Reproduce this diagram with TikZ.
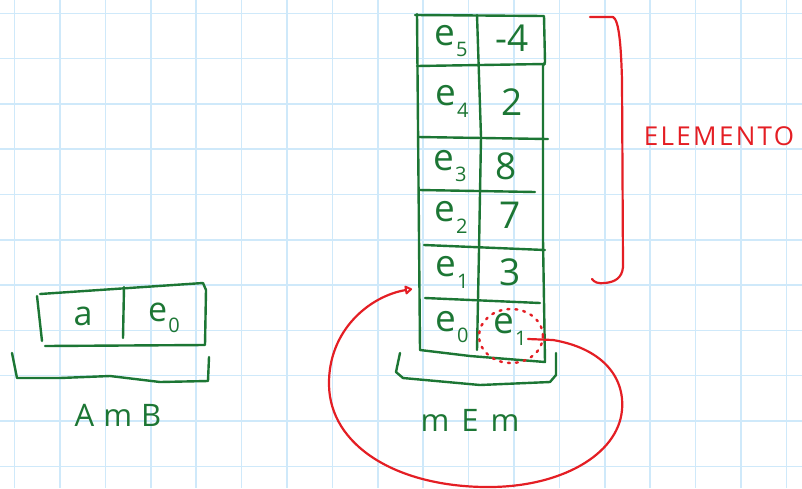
\documentclass[tikz,border=0pt]{standalone}
\usepackage{fontspec}
\setmainfont{Open Sans}
\usetikzlibrary{arrows.meta,shapes.geometric}
\definecolor{ink}{RGB}{28,118,52}
\definecolor{pen}{RGB}{228,30,36}
\definecolor{paper}{RGB}{207,233,250}
\tikzset{
  stroke/.style={draw=ink, line width=2.4pt, line cap=round, line join=round},
  redstroke/.style={draw=pen, line width=2.2pt, line cap=round, line join=round},
  cell/.style={text=ink, font=\fontsize{37}{37}\selectfont, inner sep=0pt},
  tag/.style={text=ink, inner sep=0pt},
}
% letter with a lowered index
\newcommand\idx[2]{#1\kern0.03em\raisebox{-0.32em}{\fontsize{20}{20}\selectfont #2}}
\begin{document}
\begin{tikzpicture}[x=1pt,y=-1pt]
  \useasboundingbox (0,0) rectangle (802,488);
  \fill[white] (0,0) rectangle (802,488);
  % squared paper
  \foreach \k in {0,...,17} \draw[paper, line width=1.5pt] ({14.6+45.4*\k},0) -- ({14.6+45.4*\k},488);
  \foreach \k in {0,...,10} \draw[paper, line width=1.5pt] (0,{13.3+45.3*\k}) -- (802,{13.3+45.3*\k});

  % ---------- memory table ----------
  \draw[stroke] (415,15) -- (544,16) -- (545,62) -- (543,66) -- (543,137) -- (543,240) -- (545,362)
                -- (470,356) -- (420,350) -- (417,14);
  \draw[stroke] (417,66) -- (545,64);
  \draw[stroke] (418,137) -- (548,139);
  \draw[stroke] (419,190) -- (535,192);
  \draw[stroke] (424,245) -- (545,250);
  \draw[stroke] (425,298) -- (540,303);
  \draw[stroke] (477,15) -- (481,137) -- (479,250) -- (477,350);
  % bracket under the table
  \draw[stroke] (400,353) -- (396,372) -- (403,378) -- (480,385) -- (550,382) -- (556,375) -- (556,353);

  \node[cell] (e5) at (451,41) {\idx{e}{5}};
  \node[cell] (v5) at (512,38) {-4};
  \node[cell] (e4) at (452,101) {\idx{e}{4}};
  \node[cell] (v4) at (512,102) {2};
  \node[cell] (e3) at (450,166) {\idx{e}{3}};
  \node[cell] (v3) at (506,166) {8};
  \node[cell] (e2) at (451,217) {\idx{e}{2}};
  \node[cell] (v2) at (510,215) {7};
  \node[cell] (e1) at (452,272) {\idx{e}{1}};
  \node[cell] (v1) at (510,272) {3};
  \node[cell] (e0) at (452,327) {\idx{e}{0}};
  \node[cell] (v0) at (510,329) {\idx{e}{1}};

  \node[tag, font=\fontsize{31}{31}\selectfont] (mem) at (470,420) {m\hspace{12pt}E\hspace{12pt}m};

  % ---------- pointer from e1 back to the e1 row ----------
  \node[draw=pen, line width=2.4pt, dash pattern=on 2pt off 6pt, line cap=round,
        ellipse, minimum width=64pt, minimum height=54pt, inner sep=0pt] (ptr) at (511,336) {};
  \coordinate (row1) at (412,289);
  \draw[redstroke, -{Triangle[open,round,length=8pt,width=10pt]}]
    (528,339) -- (553,340) .. controls (600,348) and (625,375) .. (622,410)
    .. controls (618,455) and (560,488) .. (485,487)
    .. controls (395,486) and (330,445) .. (329,385)
    .. controls (328,330) and (370,296) .. (row1);

  % ---------- bracket labelled ELEMENTO ----------
  \draw[redstroke] (590,17) -- (613,17) .. controls (619,20) and (621,45) .. (622,80)
    -- (623,267) .. controls (622,278) and (615,282) .. (605,283) .. controls (598,284) and (594,282) .. (592,279);
  \node[text=pen, inner sep=0pt, font=\fontsize{26}{26}\selectfont\addfontfeatures{LetterSpace=9}] (elem) at (719,136) {ELEMENTO};

  % ---------- AmB record ----------
  \draw[stroke] (40,294) -- (203,283) -- (206,290) -- (205,345) -- (45,346);
  \draw[stroke] (37,296) -- (42,341);
  \draw[stroke] (124,287) -- (123,338);
  \node[tag, font=\fontsize{34}{34}\selectfont] (a) at (83,316) {a};
  \node[tag, font=\fontsize{34}{34}\selectfont] (ez) at (164,318) {\idx{e}{0}};
  \draw[stroke] (12,353) -- (17,378) -- (60,378) -- (110,376) -- (160,382) -- (208,381) -- (209,357);
  \node[tag, font=\fontsize{31}{31}\selectfont] (amb) at (118,415) {A\hspace{9pt}m\hspace{9pt}B};
\end{tikzpicture}
\end{document}
